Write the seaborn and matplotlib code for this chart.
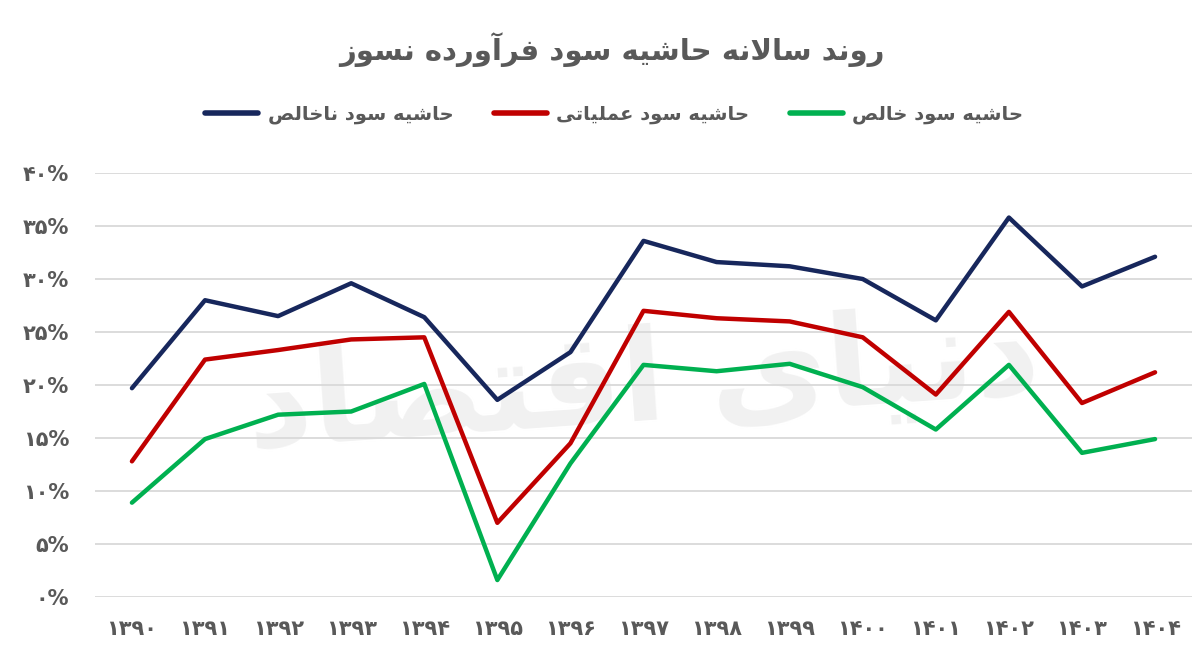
""" Annual profit margin trend chart (Persian labels) """

import numpy as np
import pandas as pd
import matplotlib
matplotlib.use("Agg")
import matplotlib.pyplot as plt
import seaborn as sns

# data
years = ["1390", "1391", "1392", "1393", "1394", "1395", "1396", "1397",
         "1398", "1399", "1400", "1401", "1402", "1403", "1404"]
gross_margin = [19.7, 28.0, 26.5, 29.6, 26.4, 18.6, 23.1, 33.6,
                31.6, 31.2, 30.0, 26.1, 35.8, 29.3, 32.1]
operating_margin = [12.8, 22.4, 23.3, 24.3, 24.5, 7.0, 14.5, 27.0,
                    26.3, 26.0, 24.5, 19.1, 26.9, 18.3, 21.2]
net_margin = [8.9, 14.9, 17.2, 17.5, 20.1, 1.6, 12.6, 21.9,
              21.3, 22.0, 19.8, 15.8, 21.9, 13.6, 14.9]
y_ticks = [0, 5, 10, 15, 20, 25, 30, 35, 40]

title = "روند سالانه حاشیه سود فرآورده نسوز"
series_names = ["حاشیه سود ناخالص", "حاشیه سود عملیاتی", "حاشیه سود خالص"]
watermark = "دنیای اقتصاد"
colors = ["#17275c", "#c00000", "#00b050"]
text_color = "#595959"


# matplotlib does no arabic shaping, so pick presentation forms by hand
FORMS = {  # isolated, final, initial, medial
    "ا": (0xFE8D, 0xFE8E, None, None),
    "آ": (0xFE81, 0xFE82, None, None),
    "د": (0xFEA9, 0xFEAA, None, None),
    "ر": (0xFEAD, 0xFEAE, None, None),
    "ز": (0xFEAF, 0xFEB0, None, None),
    "و": (0xFEED, 0xFEEE, None, None),
    "ت": (0xFE95, 0xFE96, 0xFE97, 0xFE98),
    "ح": (0xFEA1, 0xFEA2, 0xFEA3, 0xFEA4),
    "خ": (0xFEA5, 0xFEA6, 0xFEA7, 0xFEA8),
    "س": (0xFEB1, 0xFEB2, 0xFEB3, 0xFEB4),
    "ش": (0xFEB5, 0xFEB6, 0xFEB7, 0xFEB8),
    "ص": (0xFEB9, 0xFEBA, 0xFEBB, 0xFEBC),
    "ع": (0xFEC9, 0xFECA, 0xFECB, 0xFECC),
    "ف": (0xFED1, 0xFED2, 0xFED3, 0xFED4),
    "ق": (0xFED5, 0xFED6, 0xFED7, 0xFED8),
    "ل": (0xFEDD, 0xFEDE, 0xFEDF, 0xFEE0),
    "م": (0xFEE1, 0xFEE2, 0xFEE3, 0xFEE4),
    "ن": (0xFEE5, 0xFEE6, 0xFEE7, 0xFEE8),
    "ه": (0xFEE9, 0xFEEA, 0xFEEB, 0xFEEC),
    "ی": (0xFEEF, 0xFEF0, 0xFEF3, 0xFEF4),
}


def shape(text):
    """ join persian letters and reverse for left-to-right drawing """
    chars = list(text)
    out = []
    i = 0
    while i < len(chars):
        c = chars[i]
        if c not in FORMS:
            out.append(c)
            i += 1
            continue
        prev = chars[i - 1] if i > 0 else None
        joins_prev = prev in FORMS and FORMS[prev][2] is not None
        # lam + alef ligature
        if c == "ل" and i + 1 < len(chars) and chars[i + 1] == "ا":
            out.append(chr(0xFEFC if joins_prev else 0xFEFB))
            i += 2
            continue
        nxt = chars[i + 1] if i + 1 < len(chars) else None
        joins_next = FORMS[c][2] is not None and nxt in FORMS
        iso, fin, ini, med = FORMS[c]
        if joins_prev and joins_next:
            out.append(chr(med))
        elif joins_prev:
            out.append(chr(fin))
        elif joins_next:
            out.append(chr(ini))
        else:
            out.append(chr(iso))
        i += 1
    return "".join(out[::-1])


def fa_digits(s):
    return s.translate(str.maketrans("0123456789", "۰۱۲۳۴۵۶۷۸۹"))


df = pd.DataFrame({"year": years, "gross": gross_margin,
                   "operating": operating_margin, "net": net_margin})
long_df = df.melt(id_vars="year", var_name="series", value_name="margin")

sns.set_style("white")
plt.rcParams["font.family"] = ["DejaVu Sans"]

fig = plt.figure(figsize=(12, 6.66), dpi=100)
ax = fig.add_axes([0.0795, 0.1036, 0.9135, 0.6366])

# faint watermark behind the lines
ax.text(0.5, 0.5, shape(watermark), transform=ax.transAxes, ha="center",
        va="center", fontsize=92, fontweight="bold", color="#f1f1f1",
        rotation=4, zorder=0)

sns.lineplot(data=long_df, x="year", y="margin", hue="series",
             palette=colors, linewidth=3.2, ax=ax, sort=False, legend=False)

ax.set_xlim(-0.5, len(years) - 0.5)
ax.set_ylim(0, 40)
ax.set_yticks(y_ticks)
ax.set_yticklabels([fa_digits(str(t)) + "%" for t in y_ticks])
ax.set_xticks(range(len(years)))
ax.set_xticklabels([fa_digits(y) for y in years])
ax.tick_params(axis="both", length=0, labelsize=15, colors=text_color)
ax.tick_params(axis="y", pad=19)
ax.tick_params(axis="x", pad=16)
for lab in ax.get_xticklabels() + ax.get_yticklabels():
    lab.set_fontweight("bold")
ax.grid(axis="y", color="#d9d9d9", linewidth=1.3)
ax.set_axisbelow(True)
for s in ax.spines.values():
    s.set_visible(False)
ax.set_xlabel("")
ax.set_ylabel("")

# legend
handles = [plt.Line2D([], [], color=c, linewidth=4) for c in colors]
fig.legend(handles, [shape(n) for n in series_names], loc="center",
           bbox_to_anchor=(0.512, 0.828), ncol=3, frameon=False,
           handlelength=2.7, handletextpad=0.5, columnspacing=2.1,
           labelcolor=text_color, prop={"weight": "bold", "size": 14})

fig.text(0.51, 0.925, shape(title), ha="center", va="center",
         fontsize=21, fontweight="bold", color=text_color)

fig.savefig("out.png", dpi=100)
